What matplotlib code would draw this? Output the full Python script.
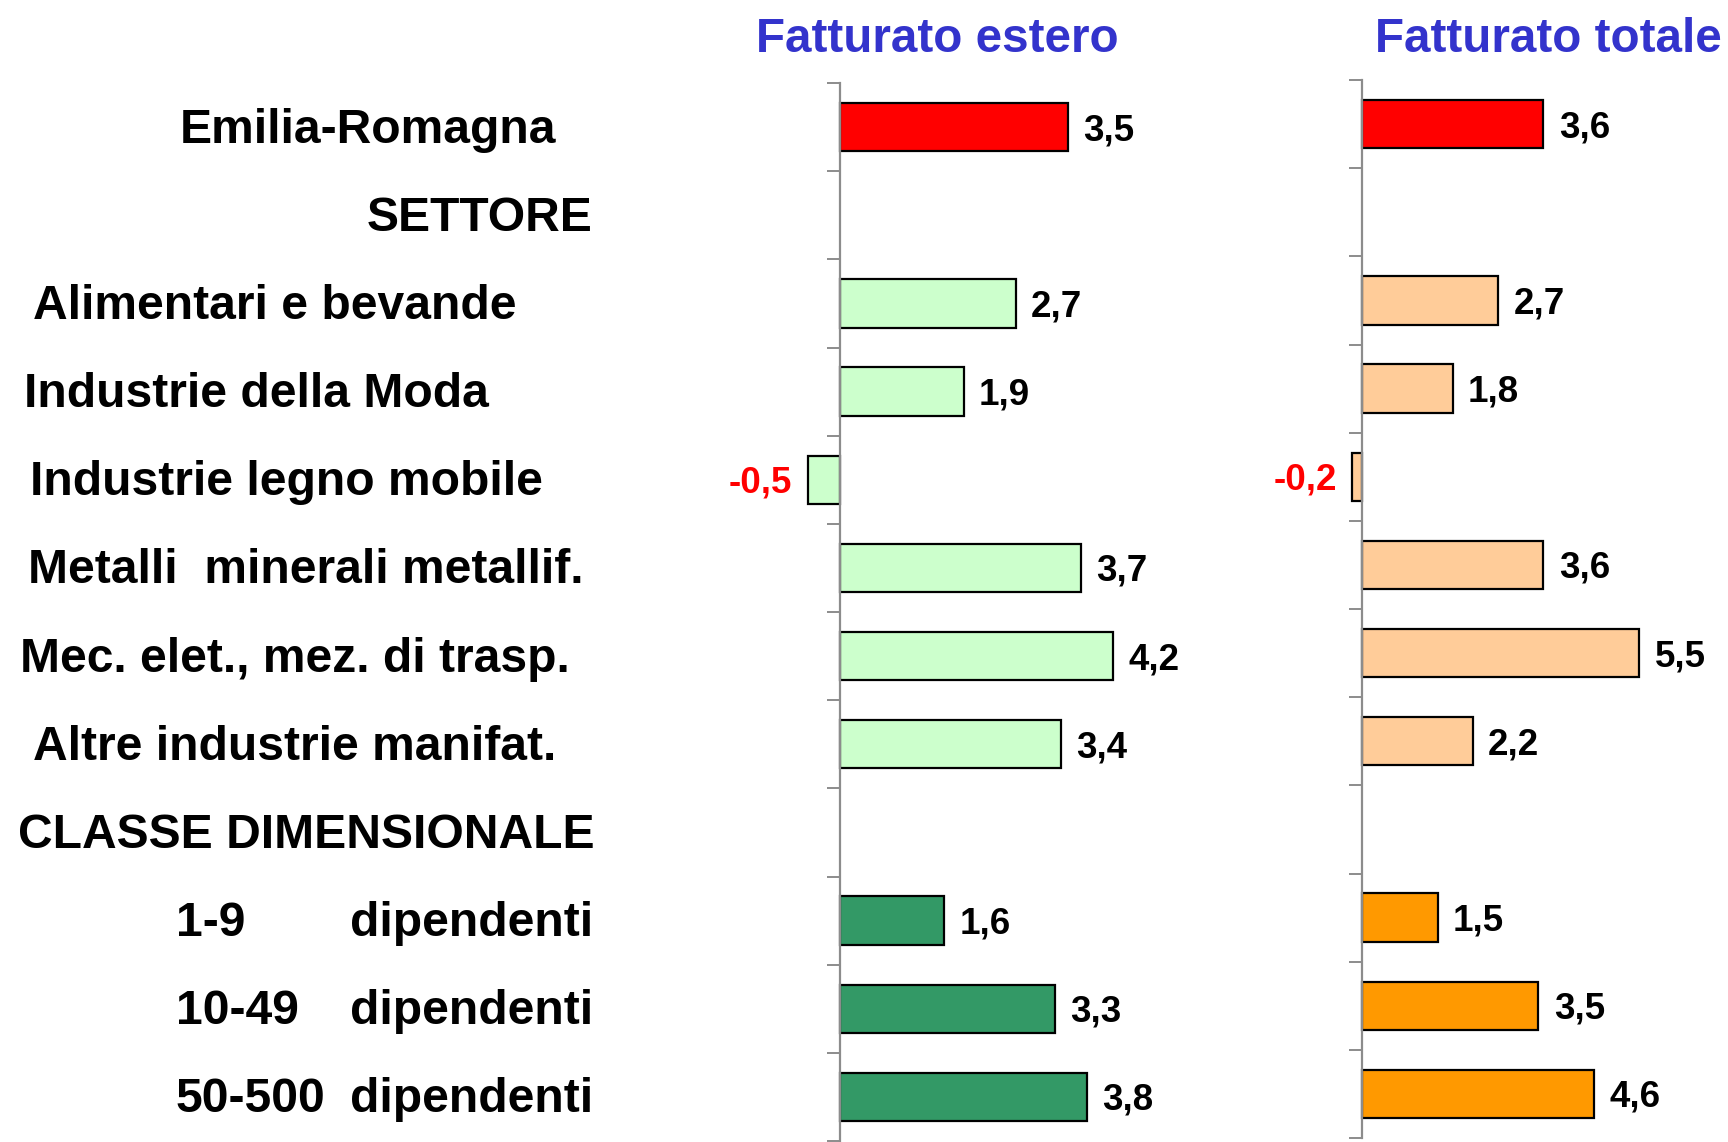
import matplotlib
matplotlib.use("Agg")
import matplotlib.pyplot as plt
import matplotlib.transforms as mtransforms

plt.rcParams['font.family'] = ['Liberation Sans', 'DejaVu Sans']

# Data
labels = ['Emilia-Romagna', 'SETTORE', 'Alimentari e bevande', 'Industrie della Moda',
          'Industrie legno mobile', 'Metalli  minerali metallif.', 'Mec. elet., mez. di trasp.',
          'Altre industrie manifat.', 'CLASSE DIMENSIONALE', '1-9', '10-49', '50-500']
estero = [3.5, None, 2.7, 1.9, -0.5, 3.7, 4.2, 3.4, None, 1.6, 3.3, 3.8]
totale = [3.6, None, 2.7, 1.8, -0.2, 3.6, 5.5, 2.2, None, 1.5, 3.5, 4.6]
titles = ['Fatturato estero', 'Fatturato totale']

# colours by group
col_est = ['#FF0000', None] + ['#CCFFCC'] * 6 + [None] + ['#339966'] * 3
col_tot = ['#FF0000', None] + ['#FFCC99'] * 6 + [None] + ['#FF9900'] * 3

W, H = 1728, 1142
fig = plt.figure(figsize=(W / 100, H / 100), dpi=100)

def px_axes(x0, y0, x1, y1):
    return fig.add_axes([x0 / W, 1 - y1 / H, (x1 - x0) / W, (y1 - y0) / H])

# left panel: zero at x=840, 65 px per unit
ax1 = px_axes(840 - 65, 83, 840 + 65 * 6, 1141)
ax1.set_xlim(-1, 6)
# right panel: zero at x=1362, 50.4 px per unit
ax2 = px_axes(1362 - 50.4, 80, 1362 + 50.4 * 6, 1138)
ax2.set_xlim(-1, 6)

n = len(labels)
for ax, vals, cols, title, tx in [(ax1, estero, col_est, titles[0], 937),
                                    (ax2, totale, col_tot, titles[1], 1548)]:
    for i, (v, c) in enumerate(zip(vals, cols)):
        if v is None:
            continue
        ax.barh(i, v, height=0.55, color=c, edgecolor='black', linewidth=1.6, zorder=2)
        if v >= 0:
            ax.annotate(f"{v:.1f}".replace('.', ','), (v, i), xytext=(11, -2.5),
                        textcoords='offset points', ha='left', va='center',
                        fontsize=26.5, fontweight='bold', color='black')
        else:
            ax.annotate(f"{v:.1f}".replace('.', ','), (v, i), xytext=(-11, -2.5),
                        textcoords='offset points', ha='right', va='center',
                        fontsize=26.5, fontweight='bold', color='#FF0000')
    ax.set_ylim(n - 0.5, -0.5)
    ax.set_yticks([k - 0.5 for k in range(n + 1)])
    ax.set_yticklabels([])
    ax.set_xticks([])
    for s in ['top', 'right', 'bottom']:
        ax.spines[s].set_visible(False)
    ax.spines['left'].set_position(('data', 0))
    ax.spines['left'].set_color('#8C8C8C')
    ax.spines['left'].set_linewidth(1.6)
    ax.spines['left'].set_zorder(3)
    ax.tick_params(axis='y', direction='out', length=9.5, width=1.4, color='#8C8C8C')
    ax.patch.set_visible(False)
    fig.text(tx / W, 1 - 40 / H, title, ha='center', va='center', fontsize=34.3,
             fontweight='bold', color='#3333CC')

# category labels
trans = mtransforms.blended_transform_factory(fig.transFigure, ax1.transData)
offs = mtransforms.ScaledTranslation(0, -3 / 100, fig.dpi_scale_trans)
lab_x = [180, 593, 33, 24, 30, 28, 20, 33, 595, 176, 176, 176]
lab_ha = ['left', 'right', 'left', 'left', 'left', 'left', 'left', 'left', 'right',
          'left', 'left', 'left']
for i, (t, x, ha) in enumerate(zip(labels, lab_x, lab_ha)):
    ax1.text(x / W, i, t, transform=trans + offs, ha=ha, va='center', fontsize=34.6,
             fontweight='bold', color='black')
for i in range(9, 12):
    ax1.text(593 / W, i, 'dipendenti', transform=trans + offs, ha='right', va='center',
             fontsize=34.6, fontweight='bold', color='black')

fig.savefig('out.png', dpi=100)
